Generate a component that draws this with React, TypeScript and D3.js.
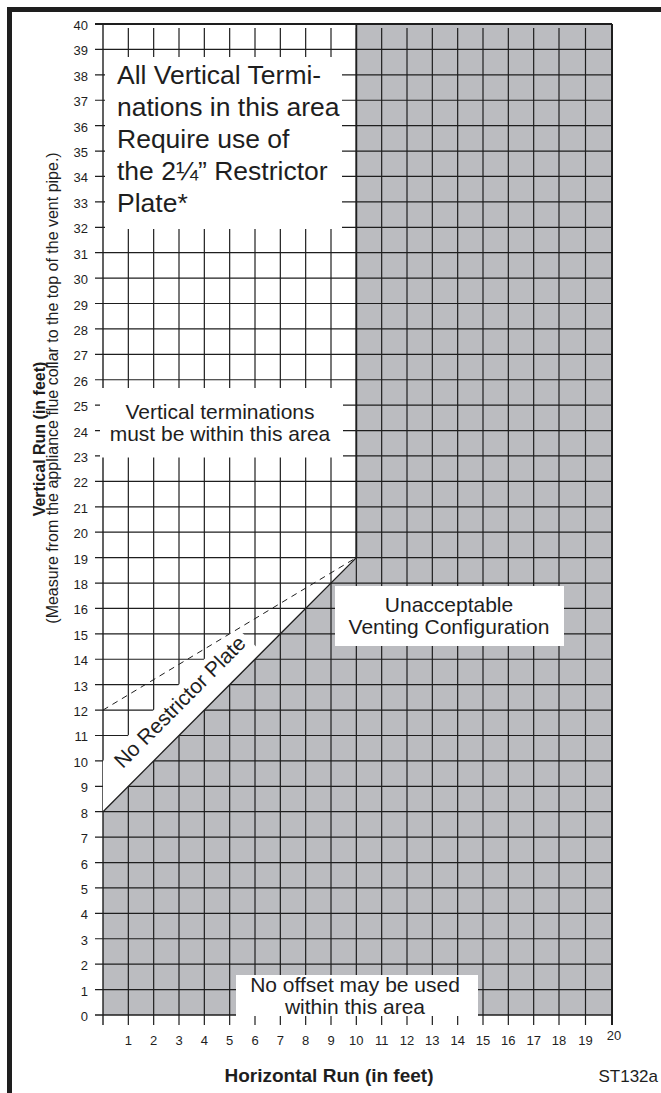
import React, { useEffect, useRef } from "react";
import * as d3 from "d3";

// horizontal run ticks (feet)
const xTicks = [0, 1, 2, 3, 4, 5, 6, 7, 8, 9, 10, 11, 12, 13, 14, 15, 16, 17, 18, 19, 20];
// vertical run ticks (feet) - the chart skips 17
const yTicks = [0, 1, 2, 3, 4, 5, 6, 7, 8, 9, 10, 11, 12, 13, 14, 15, 16, 18, 19, 20, 21, 22, 23, 24, 25, 26, 27, 28, 29, 30, 31, 32, 33, 34, 35, 36, 37, 38, 39, 40];

// unacceptable area outline
const grayRegion = [
  { x: 0, y: 0 },
  { x: 0, y: 8 },
  { x: 10, y: 19 },
  { x: 10, y: 40 },
  { x: 20, y: 40 },
  { x: 20, y: 0 },
];
const noPlateLine = [{ x: 0, y: 8 }, { x: 10, y: 19 }];
const plateLine = [{ x: 0, y: 12 }, { x: 10, y: 19 }];

const topNote = ["All Vertical Termi-", "nations in this area", "Require use of", "the 2¼” Restrictor", "Plate*"];
const midNote = ["Vertical terminations", "must be within this area"];
const badNote = ["Unacceptable", "Venting Configuration"];
const bottomNote = ["No offset may be used", "within this area"];

const FONT = "'Liberation Sans', Arial, Helvetica, sans-serif";
const INK = "#1e1e1e";

const App = () => {
  const svgRef = useRef<SVGSVGElement | null>(null);

  useEffect(() => {
    if (!svgRef.current) return;
    const svg = d3.select(svgRef.current);
    svg.selectAll("*").remove();

    const top = 24;
    const bottom = 1015;
    const step = (bottom - top) / 39;

    const x = d3.scaleLinear().domain([0, 18, 20]).range([103, 559, 612]);
    const y = d3.scaleLinear()
      .domain([0, 16, 18, 40])
      .range([bottom, bottom - 16 * step, bottom - 17 * step, top]);

    svg.append("rect").attr("width", 661).attr("height", 1093).attr("fill", "#fff");

    // outer frame bars
    svg.append("rect").attr("x", 7).attr("y", 7).attr("width", 654).attr("height", 5).attr("fill", INK);
    svg.append("rect").attr("x", 7).attr("y", 7).attr("width", 5).attr("height", 1086).attr("fill", INK);

    const line = d3.line<{ x: number; y: number }>().x(d => x(d.x)).y(d => y(d.y));

    // gray region
    svg.append("path")
      .attr("d", line(grayRegion) + "Z")
      .attr("fill", "#bbbcc0");

    // grid
    const grid = svg.append("g").attr("stroke", INK);
    yTicks.forEach(v => {
      grid.append("line")
        .attr("x1", 95).attr("x2", x(20))
        .attr("y1", y(v)).attr("y2", y(v))
        .attr("stroke-width", v === 40 ? 2.2 : v === 0 ? 1.6 : 1.2);
    });
    xTicks.forEach(v => {
      grid.append("line")
        .attr("x1", x(v)).attr("x2", x(v))
        .attr("y1", v === 0 || v === 20 ? top : top + 4).attr("y2", bottom + 10)
        .attr("stroke-width", v === 0 ? 1.4 : v === 20 ? 2 : 1.2);
    });

    // white label boxes
    const box = (x0: number, y0: number, x1: number, y1: number) =>
      svg.append("rect").attr("x", x0).attr("y", y0).attr("width", x1 - x0).attr("height", y1 - y0).attr("fill", "#fff");
    box(105, 57, 342, 229);
    box(100, 388, 343, 457.5);
    box(335, 586, 564, 646);
    box(236, 975, 478, 1016);

    // band behind "No Restrictor Plate"
    const p0 = { x: x(noPlateLine[0].x), y: y(noPlateLine[0].y) };
    const p1 = { x: x(noPlateLine[1].x), y: y(noPlateLine[1].y) };
    const angle = (Math.atan2(p1.y - p0.y, p1.x - p0.x) * 180) / Math.PI;

    svg.append("clipPath").attr("id", "plotClip")
      .append("rect")
      .attr("x", x(0)).attr("y", y(40))
      .attr("width", x(20) - x(0)).attr("height", y(0) - y(40));

    const band = svg.append("g").attr("clip-path", "url(#plotClip)")
      .append("g")
      .attr("transform", `translate(${p0.x},${p0.y}) rotate(${angle})`);
    band.append("rect")
      .attr("x", -20).attr("y", -36)
      .attr("width", 245).attr("height", 36)
      .attr("fill", "#fff");

    // x = 10 boundary
    svg.append("line")
      .attr("x1", x(10)).attr("x2", x(10))
      .attr("y1", y(19)).attr("y2", top)
      .attr("stroke", INK).attr("stroke-width", 1.8);

    svg.append("path")
      .attr("d", line(noPlateLine))
      .attr("stroke", INK).attr("stroke-width", 1.3).attr("fill", "none");
    svg.append("path")
      .attr("d", line(plateLine))
      .attr("stroke", INK).attr("stroke-width", 1).attr("stroke-dasharray", "6,5").attr("fill", "none");

    const text = svg.append("g").attr("font-family", FONT).attr("fill", INK);

    band.append("text")
      .attr("x", 132).attr("y", -16)
      .attr("text-anchor", "middle")
      .attr("font-family", FONT).attr("fill", INK)
      .style("font-size", "21px")
      .text("No Restrictor Plate");

    topNote.forEach((t, i) => {
      text.append("text")
        .attr("x", 117).attr("y", 84 + i * 32)
        .style("font-size", "26.5px")
        .text(t);
    });
    midNote.forEach((t, i) => {
      text.append("text")
        .attr("x", 220).attr("y", 419 + i * 22)
        .attr("text-anchor", "middle")
        .style("font-size", "21px")
        .text(t);
    });
    badNote.forEach((t, i) => {
      text.append("text")
        .attr("x", 449).attr("y", 612 + i * 22)
        .attr("text-anchor", "middle")
        .style("font-size", "21px")
        .text(t);
    });
    bottomNote.forEach((t, i) => {
      text.append("text")
        .attr("x", 355).attr("y", 992 + i * 22)
        .attr("text-anchor", "middle")
        .style("font-size", "21px")
        .text(t);
    });

    // tick labels
    yTicks.forEach(v => {
      text.append("text")
        .attr("x", 88).attr("y", y(v) + 6)
        .attr("text-anchor", "end")
        .style("font-size", "13px")
        .text(v);
    });
    xTicks.filter(v => v > 0).forEach(v => {
      text.append("text")
        .attr("x", x(v) + (v === 20 ? 2 : 0)).attr("y", v === 20 ? 1040 : 1045)
        .attr("text-anchor", "middle")
        .style("font-size", "13px")
        .text(v);
    });

    // axis titles
    text.append("text")
      .attr("transform", "translate(45,439) rotate(-90)")
      .attr("text-anchor", "middle")
      .style("font-size", "16px").style("font-weight", "bold")
      .text("Vertical Run (in feet)");
    text.append("text")
      .attr("transform", "translate(58,388) rotate(-90)")
      .attr("text-anchor", "middle")
      .style("font-size", "16px")
      .text("(Measure from the appliance flue collar to the top of the vent pipe.)");
    text.append("text")
      .attr("x", 329).attr("y", 1082)
      .attr("text-anchor", "middle")
      .style("font-size", "19px").style("font-weight", "bold")
      .text("Horizontal Run (in feet)");
    text.append("text")
      .attr("x", 658).attr("y", 1082)
      .attr("text-anchor", "end")
      .style("font-size", "17px")
      .text("ST132a");
  }, []);

  return (
    <svg
      ref={svgRef}
      width={661}
      height={1093}
      style={{ position: "absolute", left: 0, top: 0 }}
    />
  );
};

export default App;
